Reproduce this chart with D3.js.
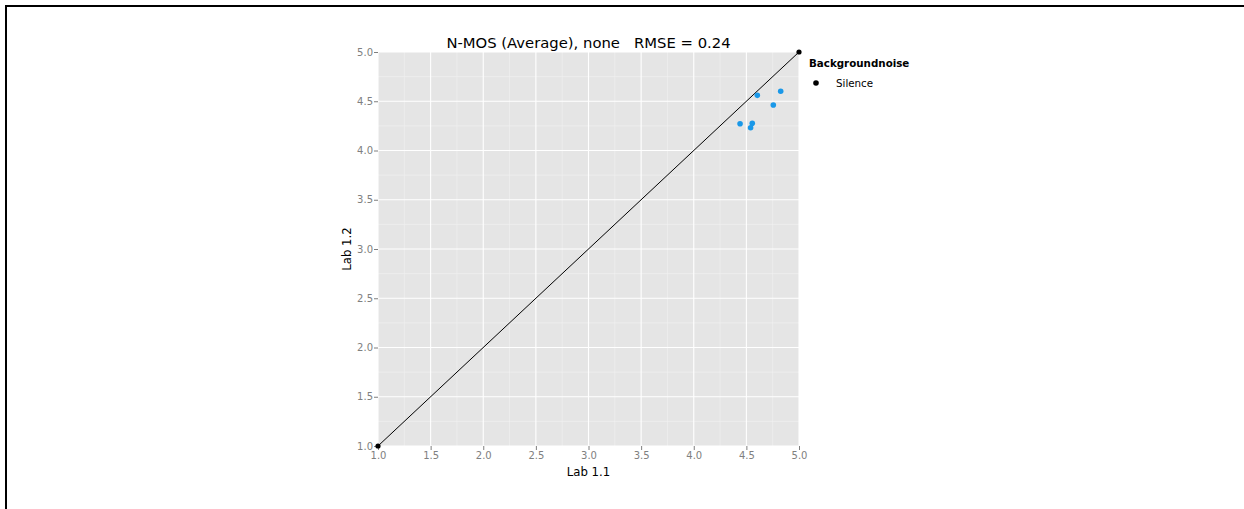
<!DOCTYPE html>
<html><head><meta charset="utf-8">
<script src="https://cdn.jsdelivr.net/npm/d3@7"></script>
<style>body{margin:0;background:#fff}svg{display:block;font-family:"DejaVu Sans",sans-serif}text{white-space:pre}</style>
</head><body><svg id="c" width="1244" height="509"></svg>
<script>
const titleText = "N-MOS (Average), none   RMSE = 0.24";
const xLabel = "Lab 1.1";
const yLabel = "Lab 1.2";
const legendTitle = "Backgroundnoise";
const legendLabels = ["Silence"];
const tickValues = [1.0, 1.5, 2.0, 2.5, 3.0, 3.5, 4.0, 4.5, 5.0];
const minorTicks = [1.25, 1.75, 2.25, 2.75, 3.25, 3.75, 4.25, 4.75];
const lab11 = [4.44, 4.54, 4.556, 4.604, 4.756, 4.826];
const lab12 = [4.272, 4.231, 4.276, 4.560, 4.462, 4.601];
const diagonal = [1, 5];

const svg = d3.select("#c");
svg.append("line").attr("x1",5).attr("x2",1244).attr("y1",6).attr("y2",6).attr("stroke","#000").attr("stroke-width",2);
svg.append("line").attr("x1",6).attr("x2",6).attr("y1",5).attr("y2",509).attr("stroke","#000").attr("stroke-width",2);

const x = d3.scaleLinear().domain([1,5]).range([378,799]);
const y = d3.scaleLinear().domain([1,5]).range([446,52]);

svg.append("rect").attr("x",x(1)).attr("y",y(5)).attr("width",x(5)-x(1)).attr("height",y(1)-y(5)).attr("fill","#e5e5e5");
const g = svg.append("g");
minorTicks.forEach(v=>{
  g.append("line").attr("x1",x(v)).attr("x2",x(v)).attr("y1",y(1)).attr("y2",y(5)).attr("stroke","#f2f2f2").attr("stroke-width",0.6);
  g.append("line").attr("y1",y(v)).attr("y2",y(v)).attr("x1",x(1)).attr("x2",x(5)).attr("stroke","#f2f2f2").attr("stroke-width",0.6);
});
tickValues.forEach(v=>{
  g.append("line").attr("x1",x(v)).attr("x2",x(v)).attr("y1",y(1)).attr("y2",y(5)).attr("stroke","#fff").attr("stroke-width",1.1);
  g.append("line").attr("y1",y(v)).attr("y2",y(v)).attr("x1",x(1)).attr("x2",x(5)).attr("stroke","#fff").attr("stroke-width",1.1);
});

const xAxis = d3.axisBottom(x).tickValues(tickValues).tickFormat(d3.format(".1f")).tickSize(4).tickPadding(2);
const yAxis = d3.axisLeft(y).tickValues(tickValues).tickFormat(d3.format(".1f")).tickSize(4).tickPadding(1);
const gx = svg.append("g").attr("transform",`translate(0,${y(1)})`).call(xAxis);
const gy = svg.append("g").attr("transform",`translate(${x(1)},0)`).call(yAxis);
[gx,gy].forEach(a=>{
  a.select(".domain").remove();
  a.selectAll(".tick line").attr("stroke","#7f7f7f");
  a.selectAll(".tick text").attr("fill","#808080").style("font-size","10px").style("font-family","DejaVu Sans");
});

svg.append("line").attr("x1",x(diagonal[0])).attr("y1",y(diagonal[0])).attr("x2",x(diagonal[1])).attr("y2",y(diagonal[1])).attr("stroke","#000").attr("stroke-width",1);
diagonal.forEach(v=>svg.append("circle").attr("cx",x(v)).attr("cy",y(v)).attr("r",2.6).attr("fill","#000"));

lab11.forEach((v,i)=>svg.append("circle").attr("cx",x(v)).attr("cy",y(lab12[i])).attr("r",2.8).attr("fill","#1a98e8"));

svg.append("text").attr("x",(x(1)+x(5))/2).attr("y",48).attr("text-anchor","middle").style("font-size","14.8px").text(titleText);
svg.append("text").attr("x",(x(1)+x(5))/2).attr("y",476).attr("text-anchor","middle").style("font-size","11.7px").text(xLabel);
svg.append("text").attr("transform",`translate(351,${(y(1)+y(5))/2}) rotate(-90)`).attr("text-anchor","middle").style("font-size","11.7px").text(yLabel);

svg.append("text").attr("x",809).attr("y",67).style("font-size","10.3px").style("font-weight","bold").text(legendTitle);
legendLabels.forEach((l,i)=>{
  svg.append("circle").attr("cx",816).attr("cy",83+i*18).attr("r",2.8).attr("fill","#000");
  svg.append("text").attr("x",836).attr("y",87+i*18).style("font-size","10.3px").text(l);
});
</script></body></html>
